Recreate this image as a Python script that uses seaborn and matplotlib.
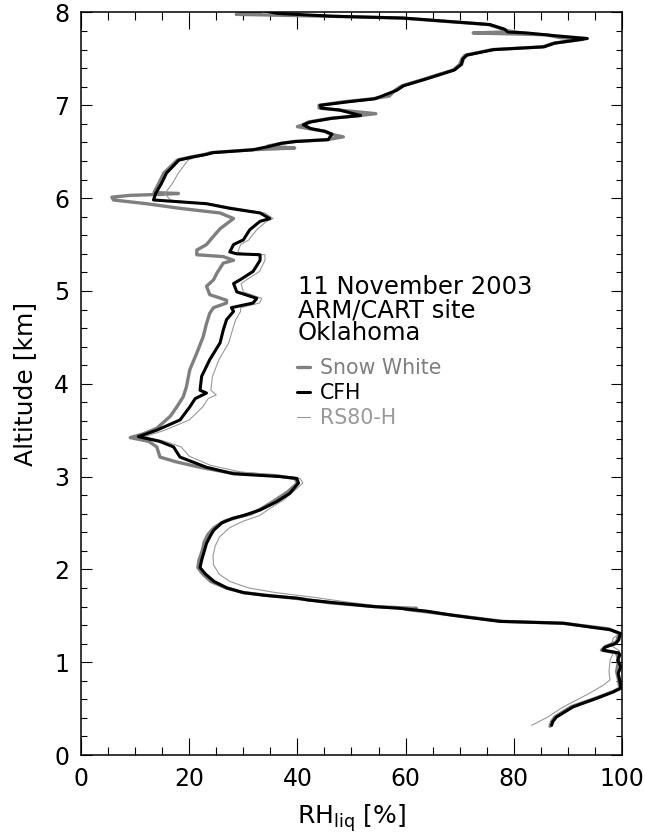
import pandas as pd
import matplotlib
matplotlib.use("Agg")
import matplotlib.pyplot as plt
from matplotlib.ticker import MultipleLocator
import seaborn as sns

# CFH profile (altitude km, RH over liquid %)
cfh_alt = [0.32, 0.36, 0.41, 0.52, 0.61, 0.68, 0.72, 0.80, 0.88, 0.95, 1.02, 1.08, 1.10, 1.13,
           1.16, 1.20, 1.24, 1.31, 1.35, 1.38, 1.42, 1.44, 1.48, 1.51, 1.55, 1.58, 1.60, 1.64,
           1.67, 1.69, 1.72, 1.75, 1.80, 1.87, 1.95, 2.02, 2.10, 2.20, 2.28, 2.36, 2.42, 2.50,
           2.55, 2.58, 2.64, 2.73, 2.82, 2.93, 2.98, 3.00, 3.03, 3.10, 3.21, 3.32, 3.38, 3.43,
           3.50, 3.61, 3.75, 3.84, 3.90, 3.93, 4.08, 4.26, 4.44, 4.58, 4.69, 4.78, 4.82, 4.87,
           4.92, 4.99, 5.08, 5.12, 5.21, 5.33, 5.39, 5.40, 5.42, 5.50, 5.55, 5.66, 5.75, 5.78,
           5.84, 5.89, 5.94, 5.96, 5.98, 6.05, 6.15, 6.27, 6.41, 6.44, 6.47, 6.49, 6.52, 6.56,
           6.59, 6.61, 6.63, 6.69, 6.72, 6.75, 6.79, 6.82, 6.86, 6.89, 6.95, 6.97, 7.00, 7.04,
           7.07, 7.16, 7.21, 7.28, 7.33, 7.38, 7.44, 7.50, 7.54, 7.60, 7.63, 7.67, 7.72, 7.75,
           7.78, 7.79, 7.82, 7.87, 7.91, 7.94, 7.96, 7.99, 8.02]
cfh_rh = [87.0, 87.2, 87.9, 91.0, 95.3, 98.4, 99.8, 99.6, 99.3, 99.8, 99.2, 99.6, 99.4, 96.5,
          96.8, 98.8, 99.4, 99.7, 97.8, 94.0, 89.2, 77.4, 72.0, 68.2, 63.9, 59.0, 54.0, 47.0,
          42.0, 40.0, 34.0, 30.0, 27.0, 24.6, 23.0, 22.0, 22.3, 22.8, 23.2, 23.9, 24.5, 26.0,
          28.0, 30.0, 33.1, 36.2, 38.6, 40.2, 39.9, 36.8, 28.2, 23.2, 18.3, 17.1, 14.5, 10.6,
          14.0, 18.3, 20.1, 21.1, 23.2, 22.0, 22.3, 23.8, 25.7, 26.3, 26.9, 28.2, 27.8, 31.8,
          32.5, 28.8, 28.2, 29.4, 31.8, 33.1, 33.1, 28.8, 27.5, 28.2, 30.0, 31.2, 33.1, 34.9,
          33.1, 27.5, 23.2, 18.3, 13.4, 13.8, 14.8, 15.8, 18.1, 20.4, 23.1, 24.4, 31.7, 35.0,
          37.0, 39.7, 45.7, 46.4, 45.1, 42.4, 41.1, 42.4, 46.4, 51.7, 47.7, 44.4, 44.2, 49.7,
          54.3, 58.3, 59.6, 63.6, 66.3, 69.0, 70.3, 70.6, 71.3, 76.3, 85.6, 87.6, 93.6, 87.6,
          82.3, 78.9, 78.3, 75.6, 66.3, 59.6, 46.4, 36.4, 33.7]

# Snow White chilled mirror profile
sw_alt = [0.31, 0.36, 0.41, 0.52, 0.61, 0.68, 0.72, 0.80, 0.90, 1.02, 1.10, 1.13, 1.17, 1.22,
          1.31, 1.36, 1.42, 1.44, 1.48, 1.52, 1.55, 1.57, 1.58, 1.60, 1.64, 1.68, 1.71, 1.75,
          1.80, 1.87, 1.95, 2.02, 2.10, 2.20, 2.30, 2.38, 2.45, 2.52, 2.57, 2.60, 2.66, 2.75,
          2.84, 2.93, 2.98, 3.01, 3.04, 3.10, 3.16, 3.21, 3.32, 3.38, 3.42, 3.46, 3.52, 3.65,
          3.75, 3.86, 3.97, 4.15, 4.33, 4.51, 4.65, 4.76, 4.82, 4.87, 4.90, 4.96, 5.05, 5.12,
          5.19, 5.30, 5.33, 5.37, 5.39, 5.44, 5.50, 5.59, 5.67, 5.78, 5.84, 5.89, 5.94, 5.98,
          6.01, 6.03, 6.04, 6.05, 6.06, 6.15, 6.27, 6.41, 6.44, 6.47, 6.49, 6.52, 6.54, 6.56,
          6.59, 6.61, 6.63, 6.66, 6.69, 6.72, 6.75, 6.77, 6.79, 6.82, 6.86, 6.89, 6.91, 6.95,
          6.97, 7.00, 7.04, 7.07, 7.10, 7.16, 7.21, 7.28, 7.33, 7.38, 7.44, 7.50, 7.54, 7.60,
          7.63, 7.67, 7.71, 7.73, 7.76, 7.78, 7.79, 7.82, 7.87, 7.91, 7.94, 7.96, 7.98, 8.00,
          8.02]
sw_rh = [86.7, 87.0, 87.6, 90.6, 95.0, 98.2, 99.6, 99.4, 99.0, 99.4, 99.0, 96.2, 97.0, 99.0,
         99.5, 97.5, 89.0, 78.0, 72.5, 67.0, 63.0, 60.0, 62.0, 54.0, 46.0, 41.0, 36.0, 30.0,
         26.8, 24.0, 22.5, 21.6, 21.8, 22.4, 22.8, 23.5, 24.6, 26.5, 29.5, 31.5, 33.5, 36.0,
         38.3, 40.0, 39.5, 36.0, 27.5, 22.0, 17.5, 14.6, 14.0, 12.5, 9.1, 11.5, 14.0, 16.5,
         17.7, 18.9, 19.5, 20.1, 21.4, 22.6, 23.2, 23.8, 24.5, 26.9, 26.9, 23.8, 23.2, 24.5,
         25.1, 26.3, 28.2, 26.3, 21.4, 21.4, 23.2, 24.5, 25.7, 28.2, 25.7, 18.3, 12.1, 6.0,
         5.7, 9.1, 14.5, 18.0, 13.5, 14.3, 15.3, 17.8, 20.0, 22.8, 24.0, 31.3, 39.5, 34.5,
         37.0, 39.3, 45.5, 48.5, 46.0, 45.0, 42.0, 40.0, 41.0, 42.0, 46.0, 51.5, 54.5, 47.5,
         44.0, 44.0, 48.8, 53.8, 57.0, 58.0, 59.3, 63.3, 66.0, 68.8, 70.0, 70.4, 71.0, 76.0,
         85.3, 87.4, 92.8, 88.5, 86.0, 72.5, 78.6, 78.0, 75.3, 66.0, 59.3, 45.5, 28.7, 33.0,
         33.5]

# Vaisala RS80-H profile
rs80_alt = [0.32, 0.40, 0.52, 0.65, 0.75, 0.81, 0.90, 1.02, 1.10, 1.12, 1.18, 1.26, 1.31, 1.35,
            1.42, 1.44, 1.50, 1.55, 1.60, 1.65, 1.70, 1.75, 1.80, 1.87, 1.95, 2.05, 2.15, 2.25,
            2.35, 2.45, 2.52, 2.58, 2.66, 2.75, 2.85, 2.93, 2.98, 3.01, 3.05, 3.12, 3.22, 3.32,
            3.38, 3.43, 3.50, 3.61, 3.75, 3.84, 3.88, 3.93, 4.08, 4.26, 4.44, 4.58, 4.69, 4.78,
            4.82, 4.87, 4.92, 4.99, 5.08, 5.12, 5.21, 5.33, 5.39, 5.40, 5.42, 5.50, 5.55, 5.66,
            5.75, 5.78, 5.84, 5.89, 5.94, 5.96, 5.98, 6.05, 6.15, 6.27, 6.41, 6.44, 6.47, 6.49,
            6.52, 6.56, 6.59, 6.61, 6.63, 6.69, 6.72, 6.75, 6.79, 6.82, 6.86, 6.89, 6.95, 6.97,
            7.00, 7.04, 7.07, 7.16, 7.21, 7.28, 7.33, 7.38, 7.44, 7.50, 7.54, 7.60, 7.63, 7.67,
            7.72, 7.75, 7.78, 7.82, 7.87, 7.91, 7.94, 7.96, 7.99, 8.02]
rs80_rh = [83.3, 86.0, 89.2, 93.5, 96.5, 97.8, 97.6, 97.8, 98.4, 99.6, 98.0, 98.4, 99.6, 97.5,
           89.5, 78.0, 70.0, 64.5, 56.0, 49.0, 43.0, 36.0, 31.0, 27.5, 25.5, 24.5, 24.4, 24.8,
           25.6, 27.5, 30.0, 33.0, 35.0, 37.5, 39.5, 41.0, 40.5, 37.0, 29.5, 24.0, 20.0, 18.5,
           15.5, 11.8, 15.5, 20.0, 22.5, 23.5, 25.0, 24.0, 24.3, 25.5, 27.3, 28.0, 28.6, 29.5,
           29.5, 33.0, 33.4, 30.0, 29.6, 30.6, 33.0, 34.0, 34.0, 30.0, 29.0, 29.5, 31.0, 32.5,
           34.3, 35.5, 34.0, 29.0, 24.0, 19.5, 16.5, 15.5, 16.8, 18.0, 19.8, 21.0, 23.5, 24.8,
           32.0, 35.5, 37.3, 40.0, 46.0, 46.7, 45.4, 42.7, 41.4, 42.7, 46.7, 52.0, 48.0, 44.7,
           44.5, 50.0, 54.6, 58.6, 59.9, 63.9, 66.6, 69.3, 70.6, 70.9, 71.6, 76.6, 85.9, 87.9,
           93.2, 87.9, 82.6, 78.6, 75.9, 66.6, 59.9, 46.7, 36.7, 34.0]

sw = pd.DataFrame({"rh": sw_rh, "alt": sw_alt})
cfh = pd.DataFrame({"rh": cfh_rh, "alt": cfh_alt})
rs80 = pd.DataFrame({"rh": rs80_rh, "alt": rs80_alt})

sns.set_style("ticks")
plt.rcParams["font.family"] = ["DejaVu Sans"]
plt.rcParams["mathtext.fontset"] = "dejavusans"
plt.rcParams["text.color"] = "black"
plt.rcParams["axes.labelcolor"] = "black"
plt.rcParams["xtick.color"] = "black"
plt.rcParams["ytick.color"] = "black"

fig, ax = plt.subplots(figsize=(6.45, 8.33), dpi=100)
fig.subplots_adjust(left=0.1256, right=0.9643, bottom=0.0936, top=0.985)

sns.lineplot(data=sw, x="rh", y="alt", sort=False, estimator=None, color="#7f7f7f",
             lw=2.4, label="Snow White", ax=ax)
sns.lineplot(data=rs80, x="rh", y="alt", sort=False, estimator=None, color="#999999",
             lw=0.8, label="RS80-H", ax=ax)
sns.lineplot(data=cfh, x="rh", y="alt", sort=False, estimator=None, color="black",
             lw=2.2, label="CFH", ax=ax)

ax.set_xlim(0, 100)
ax.set_ylim(0, 8)
ax.xaxis.set_major_locator(MultipleLocator(20))
ax.xaxis.set_minor_locator(MultipleLocator(5))
ax.yaxis.set_major_locator(MultipleLocator(1))
ax.yaxis.set_minor_locator(MultipleLocator(0.2))
ax.tick_params(axis="both", which="both", direction="in", top=True, right=True,
               width=0.8, color="black", labelcolor="black", labelsize=17, pad=8.5)
ax.tick_params(axis="x", which="major", length=12)
ax.tick_params(axis="x", which="minor", length=6)
ax.tick_params(axis="y", which="major", length=8)
ax.tick_params(axis="y", which="minor", length=4)
for sp in ax.spines.values():
    sp.set_linewidth(1.1)
    sp.set_color("black")

ax.set_xlabel(r"RH$_{\mathrm{liq}}$ [%]", fontsize=18, labelpad=8, color="black")
ax.set_ylabel("Altitude [km]", fontsize=18, labelpad=12, color="black")

ax.text(40.1, 5.17, "11 November 2003\nARM/CART site\nOklahoma", fontsize=17.5,
        ha="left", va="top", linespacing=0.95, color="black")

handles, labels = ax.get_legend_handles_labels()
order = [labels.index(n) for n in ["Snow White", "CFH", "RS80-H"]]
leg = ax.legend([handles[i] for i in order], [labels[i] for i in order],
                loc="upper left", bbox_to_anchor=(0.4, 0.535), frameon=False,
                fontsize=14.8, handlelength=0.6, handletextpad=0.5,
                labelspacing=0.25, borderaxespad=0, borderpad=0,
                labelcolor=["#7f7f7f", "black", "#999999"])

fig.savefig("out.png", dpi=100)
